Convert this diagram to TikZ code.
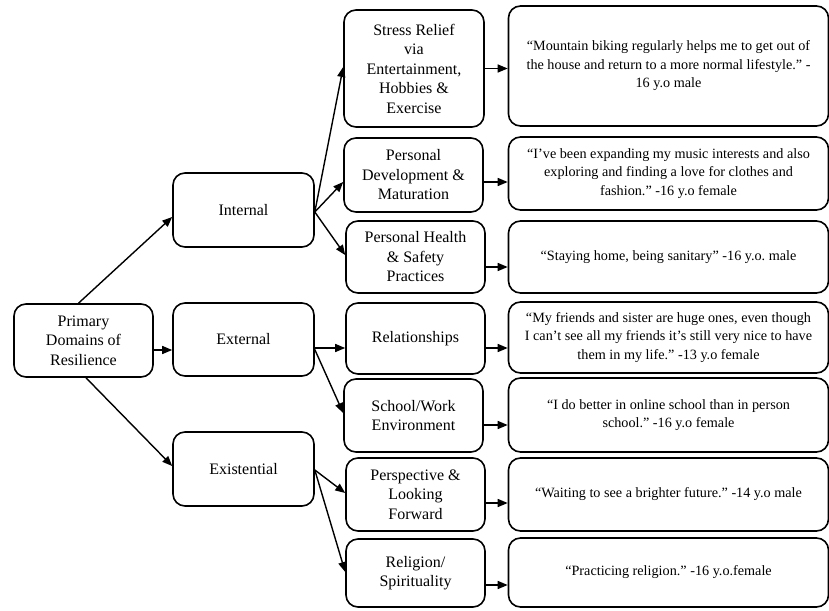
\documentclass[tikz,border=0pt]{standalone}
\usepackage{fontspec}
\setmainfont{Liberation Serif}
\usetikzlibrary{arrows.meta}
\frenchspacing
\begin{document}
\begin{tikzpicture}[x=1pt,y=-1pt,
  box/.style={draw, line width=1.6pt, rounded corners=12pt, align=center, inner sep=0pt,
              font=\fontsize{16}{19.5}\selectfont},
  quote/.style={box, minimum width=320pt, font=\fontsize{14.2}{18.5}\selectfont},
  arr/.style={line width=1.4pt, -{Triangle[length=10pt,width=8pt]}}]
\useasboundingbox (0,0) rectangle (829,610);

% level 0
\node[box, minimum width=139pt, minimum height=73pt] (prim) at (83.5,340.5) {Primary\\Domains of\\Resilience};
% level 1
\node[box, minimum width=141pt, minimum height=74pt] (int) at (243.5,210) {Internal};
\node[box, minimum width=141pt, minimum height=73pt] (ext) at (243.5,339.5) {External};
\node[box, minimum width=141pt, minimum height=74pt] (exi) at (243.5,469) {Existential};
% level 2
\node[box, minimum width=140pt, minimum height=117pt] (sr) at (414,68.5) {Stress Relief\\via\\Entertainment,\\Hobbies \&\\Exercise};
\node[box, minimum width=139pt, minimum height=74pt] (pd) at (413.5,175) {Personal\\Development \&\\Maturation};
\node[box, minimum width=139pt, minimum height=72pt] (ph) at (415.5,257) {Personal Health\\\& Safety\\Practices};
\node[box, minimum width=139pt, minimum height=71pt] (rel) at (415.5,338.5) {Relationships};
\node[box, minimum width=139pt, minimum height=73pt] (sw) at (413.5,415.5) {School/Work\\Environment};
\node[box, minimum width=139pt, minimum height=73pt] (pl) at (415.5,494.5) {Perspective \&\\Looking\\Forward};
\node[box, minimum width=139pt, minimum height=68pt] (rs) at (415.5,573) {Religion/\\Spirituality};
% quotes
\node[quote, minimum height=120pt] (q1) at (668.5,66) {“Mountain biking regularly helps me to get out of\\the house and return to a more normal lifestyle.” -\\16 y.o male};
\node[quote, minimum height=73pt] (q2) at (668.5,173.5) {“I’ve been expanding my music interests and also\\exploring and finding a love for clothes and\\fashion.” -16 y.o female};
\node[quote, minimum height=72pt] (q3) at (668.5,257) {“Staying home, being sanitary” -16 y.o. male};
\node[quote, minimum height=71pt] (q4) at (668.5,337.5) {“My friends and sister are huge ones, even though\\I can’t see all my friends it’s still very nice to have\\them in my life.” -13 y.o female};
\node[quote, minimum height=74pt] (q5) at (668.5,415) {“I do better in online school than in person\\school.” -16 y.o female};
\node[quote, minimum height=73pt] (q6) at (668.5,494.5) {“Waiting to see a brighter future.” -14 y.o male};
\node[quote, minimum height=69pt] (q7) at (668.5,572.5) {“Practicing religion.” -16 y.o.female};

% connectors level 0 -> 1
\draw[arr] ([xshift=-5pt]prim.north) -- ([yshift=-7pt]int.west);
\draw[arr] ([yshift=-9.5pt]prim.east) coordinate (t) -- (t -| ext.west);
\draw[arr] ([xshift=2.5pt]prim.south) -- ([yshift=3pt]exi.west);
% level 1 -> 2
\draw[arr] ([yshift=-2pt]int.east) -- ([yshift=1.5pt]sr.west);
\draw[arr] ([yshift=-2pt]int.east) -- ([yshift=-7pt]pd.west);
\draw[arr] ([yshift=-2pt]int.east) -- ([yshift=2pt]ph.west);
\draw[arr] ([yshift=-8.5pt]ext.east) coordinate (t) -- (t -| rel.west);
\draw[arr] ([yshift=-10pt]ext.east) -- ([yshift=2.5pt]sw.west);
\draw[arr] ([yshift=-1pt]exi.east) -- ([yshift=1.5pt]pl.west);
\draw[arr] ([yshift=-1pt]exi.east) -- ([yshift=1pt]rs.west);
% level 2 -> quotes
\draw[arr] (sr.east) coordinate (t) -- (t -| q1.west);
\draw[arr] ([yshift=-7pt]pd.east) coordinate (t) -- (t -| q2.west);
\draw[arr] ([yshift=-10pt]ph.east) coordinate (t) -- (t -| q3.west);
\draw[arr] ([yshift=-9.5pt]rel.east) coordinate (t) -- (t -| q4.west);
\draw[arr] ([yshift=-9.5pt]sw.east) coordinate (t) -- (t -| q5.west);
\draw[arr] ([yshift=-8.5pt]pl.east) coordinate (t) -- (t -| q6.west);
\draw[arr] ([yshift=-12pt]rs.east) coordinate (t) -- (t -| q7.west);
\end{tikzpicture}
\end{document}
